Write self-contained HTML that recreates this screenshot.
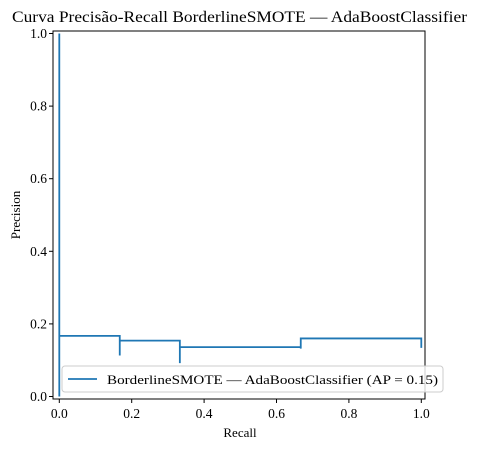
<!DOCTYPE html>
<html><head><meta charset="utf-8"><style>
body{margin:0;background:#fff}
svg{display:block;font-family:"Liberation Serif","DejaVu Serif",serif}
</style></head><body>
<svg width="478" height="449" viewBox="0 0 478 449" xmlns="http://www.w3.org/2000/svg">
<rect width="478" height="449" fill="#fff"/>
<text x="12" y="22" font-size="15.5" textLength="455" lengthAdjust="spacingAndGlyphs">Curva Precisão-Recall BorderlineSMOTE — AdaBoostClassifier</text>
<g id="plot"></g>
<rect x="53" y="31" width="372" height="368" fill="none" stroke="#000" stroke-width="1"/>
<text x="240" y="437" text-anchor="middle" font-size="13">Recall</text>
<text transform="translate(20,215) rotate(-90)" text-anchor="middle" font-size="13">Precision</text>
<g>
<rect x="62" y="366" width="381" height="26" rx="3" fill="#fff" fill-opacity="0.8" stroke="#ccc"/>
<line x1="68" y1="379" x2="97" y2="379" stroke="#1f77b4" stroke-width="1.8"/>
<text x="107" y="384" font-size="13" textLength="331" lengthAdjust="spacingAndGlyphs">BorderlineSMOTE — AdaBoostClassifier (AP = 0.15)</text>
</g>
</svg>
<script>
const recall=[1,1,0.667,0.667,0.333,0.333,0.167,0.167,0,0];
const precision=[0.134,0.160,0.132,0.136,0.092,0.154,0.113,0.167,0,1];
const xTicks=[0,0.2,0.4,0.6,0.8,1.0];
const yTicks=[0,0.2,0.4,0.6,0.8,1.0];
const NS="http://www.w3.org/2000/svg";
const X=v=>59.3+v*362, Y=v=>396.5-v*363;
const g=document.getElementById('plot');
function mk(t,a){const e=document.createElementNS(NS,t);for(const k in a)e.setAttribute(k,a[k]);g.appendChild(e);return e;}
xTicks.forEach(t=>{
  const l=mk('line',{x1:X(t),x2:X(t),y1:399,y2:403,stroke:'#000'});
  
  
  const s=mk('text',{x:X(t),y:418,'text-anchor':'middle','font-size':'13.5'});
  s.textContent=t.toFixed(1);
  
  
});
yTicks.forEach(t=>{
  const l=mk('line',{x1:49,x2:53,y1:Y(t),y2:Y(t),stroke:'#000'});
  
  
  const s=mk('text',{x:47,y:Y(t)+4.5,'text-anchor':'end','font-size':'13.5'});
  s.textContent=t.toFixed(1);
  
  
});
let d='M'+X(recall[0])+','+Y(precision[0]);
for(let i=1;i<recall.length;i++){d+=' H'+X(recall[i])+' V'+Y(precision[i]);}
const p=mk('path',{d:d,fill:'none',stroke:'#1f77b4','stroke-width':'1.8'});


</script>
</body></html>
